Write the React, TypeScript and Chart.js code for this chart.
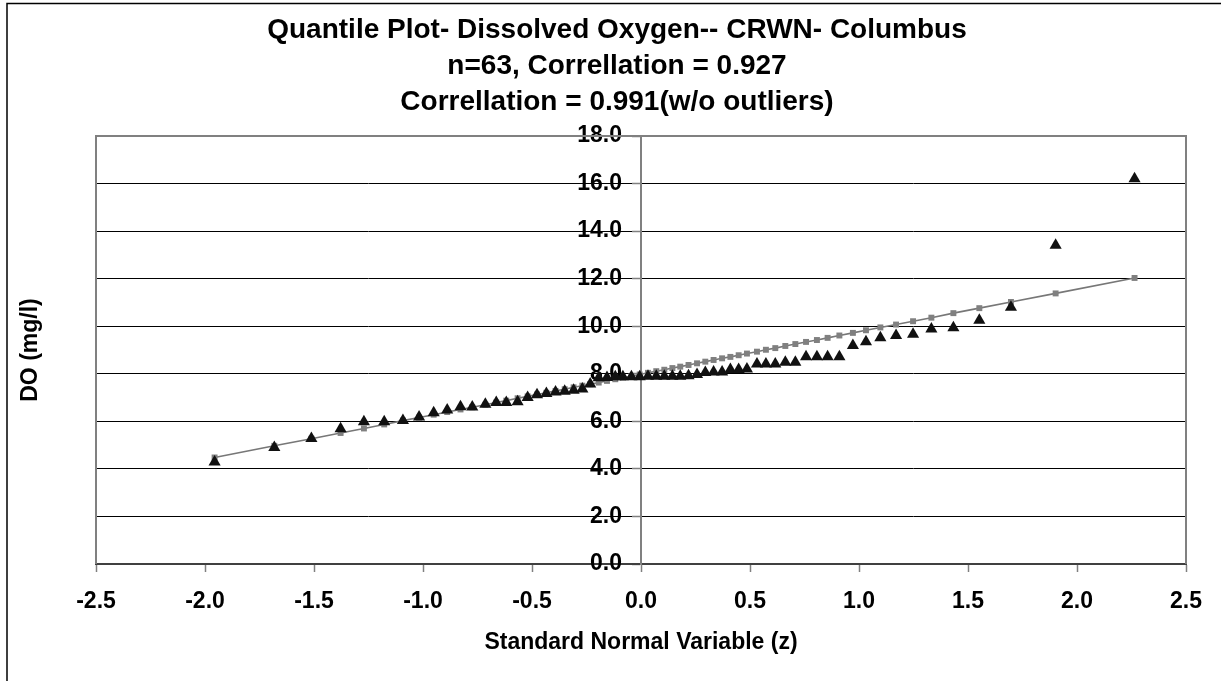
import React, { useEffect, useRef } from "react";
import { Chart, registerables } from "chart.js";

Chart.register(...registerables);

// Standard normal variable (z) for each ranked observation
const zScores = [
  -1.956, -1.682, -1.512, -1.378, -1.271, -1.178, -1.092, -1.018, -0.951, -0.889,
  -0.828, -0.774, -0.714, -0.664, -0.618, -0.566, -0.520, -0.477, -0.434, -0.392,
  -0.350, -0.309, -0.269, -0.233, -0.194, -0.156, -0.118, -0.083, -0.044, -0.006,
  0.032, 0.070, 0.107, 0.144, 0.180, 0.218, 0.257, 0.295, 0.333, 0.372,
  0.410, 0.448, 0.486, 0.532, 0.573, 0.616, 0.662, 0.708, 0.757, 0.807,
  0.856, 0.910, 0.972, 1.032, 1.098, 1.170, 1.248, 1.332, 1.433, 1.552,
  1.697, 1.902, 2.264,
];

// Observed dissolved oxygen (mg/l), sorted
const observedDO = [
  4.29, 4.9, 5.28, 5.69, 5.98, 5.98, 6.03, 6.18, 6.36, 6.48,
  6.61, 6.6, 6.72, 6.79, 6.79, 6.82, 7.0, 7.12, 7.17, 7.23,
  7.26, 7.31, 7.36, 7.57, 7.83, 7.84, 7.87, 7.87, 7.88, 7.88,
  7.9, 7.9, 7.9, 7.9, 7.9, 7.92, 7.97, 8.05, 8.07, 8.07,
  8.18, 8.18, 8.2, 8.41, 8.41, 8.41, 8.49, 8.49, 8.72, 8.72,
  8.72, 8.72, 9.19, 9.35, 9.52, 9.61, 9.66, 9.88, 9.94, 10.25,
  10.8, 13.41, 16.2,
];

// Fitted normal line values (mg/l)
const fittedDO = [
  4.48, 4.97, 5.27, 5.51, 5.70, 5.87, 6.03, 6.16, 6.28, 6.39,
  6.50, 6.59, 6.70, 6.79, 6.87, 6.97, 7.05, 7.13, 7.20, 7.28,
  7.35, 7.43, 7.50, 7.56, 7.63, 7.70, 7.77, 7.83, 7.90, 7.97,
  8.04, 8.11, 8.17, 8.24, 8.30, 8.37, 8.44, 8.51, 8.58, 8.65,
  8.71, 8.78, 8.85, 8.93, 9.01, 9.08, 9.17, 9.25, 9.34, 9.42,
  9.51, 9.61, 9.72, 9.83, 9.95, 10.07, 10.21, 10.36, 10.55, 10.76,
  11.02, 11.38, 12.03,
];

const titleLines = [
  "Quantile Plot- Dissolved Oxygen-- CRWN- Columbus",
  "n=63, Correllation = 0.927",
  "Correllation = 0.991(w/o outliers)",
];
const xAxisTitle = "Standard Normal Variable (z)";
const yAxisTitle = "DO (mg/l)";

const FAMILY = "'Liberation Sans', Arial, Helvetica, sans-serif";

const framePlugin = {
  id: "frame",
  beforeDraw(chart: any) {
    const { ctx, width, height } = chart;
    ctx.save();
    ctx.fillStyle = "#ffffff";
    ctx.fillRect(0, 0, width, height);
    ctx.strokeStyle = "#000000";
    ctx.lineWidth = 1.5;
    ctx.strokeRect(7, 3.5, width + 20, height + 20);
    ctx.restore();
  },
  beforeDatasetsDraw(chart: any) {
    const { ctx, chartArea } = chart;
    ctx.save();
    ctx.strokeStyle = "#808080";
    ctx.lineWidth = 2;
    ctx.beginPath();
    ctx.moveTo(chartArea.left, chartArea.bottom);
    ctx.lineTo(chartArea.left, chartArea.top);
    ctx.lineTo(chartArea.right, chartArea.top);
    ctx.lineTo(chartArea.right, chartArea.bottom);
    ctx.stroke();
    ctx.restore();
  },
  afterDraw(chart: any) {
    const { ctx, chartArea } = chart;
    ctx.save();
    ctx.fillStyle = "#000";
    // chart title
    ctx.font = `bold 28px ${FAMILY}`;
    ctx.textAlign = "center";
    ctx.textBaseline = "middle";
    titleLines.forEach((line, i) => {
      ctx.fillText(line, 617, 30 + i * 36);
    });
    // y axis title
    ctx.translate(31, (chartArea.top + chartArea.bottom) / 2);
    ctx.rotate(-Math.PI / 2);
    ctx.font = `bold 23px ${FAMILY}`;
    ctx.fillText(yAxisTitle, 0, 0);
    ctx.restore();
  },
};

export default function App() {
  const ref = useRef<HTMLCanvasElement>(null);

  useEffect(() => {
    const canvas = ref.current;
    if (!canvas) return;
    const tickFont = { family: FAMILY, size: 23, weight: "bold" as const };
    const chart = new Chart(canvas, {
      type: "scatter",
      data: {
        datasets: [
          {
            label: "Observed",
            data: zScores.map((z, i) => ({ x: z, y: observedDO[i] })),
            pointStyle: "triangle",
            pointRadius: 7,
            pointBackgroundColor: "#111111",
            pointBorderColor: "#111111",
            pointBorderWidth: 0,
            showLine: false,
          },
          {
            label: "Fitted",
            data: zScores.map((z, i) => ({ x: z, y: fittedDO[i] })),
            pointStyle: "rect",
            pointRadius: 4.2,
            pointBackgroundColor: "#808080",
            pointBorderColor: "#808080",
            pointBorderWidth: 0,
            borderColor: "#777777",
            borderWidth: 1.6,
            showLine: true,
          },
        ],
      },
      options: {
        responsive: false,
        animation: false,
        devicePixelRatio: 1,
        layout: { padding: { left: 96, right: 35, top: 136, bottom: 0 } },
        plugins: {
          legend: { display: false },
          tooltip: { enabled: false },
          title: { display: false },
        },
        scales: {
          x: {
            type: "linear",
            position: "bottom",
            min: -2.5,
            max: 2.5,
            afterFit: (scale: any) => {
              scale.height = 117;
            },
            ticks: {
              stepSize: 0.5,
              autoSkip: false,
              maxRotation: 0,
              color: "#000",
              font: tickFont,
              padding: 16,
              callback: (v: any) => Number(v).toFixed(1),
            },
            grid: {
              display: true,
              drawOnChartArea: false,
              drawTicks: true,
              tickLength: 8,
              tickColor: "#808080",
              tickWidth: 1.5,
            },
            border: { display: true, color: "#404040", width: 2 },
            title: {
              display: true,
              text: xAxisTitle,
              color: "#000",
              font: tickFont,
              padding: { top: 0, bottom: 25 },
            },
          },
          y: {
            type: "linear",
            position: "center",
            min: 0,
            max: 18,
            ticks: {
              stepSize: 2,
              color: "#000",
              font: tickFont,
              padding: 11,
              callback: (v: any) => Number(v).toFixed(1),
            },
            grid: {
              color: (ctx: any) => (ctx.tick && ctx.tick.value === 18 ? "#808080" : "#000000"),
              lineWidth: 1,
              drawTicks: true,
              tickLength: 8,
              tickColor: "#808080",
              tickWidth: 1.5,
            },
            border: { display: true, color: "#808080", width: 2 },
          },
        },
      },
      plugins: [framePlugin],
    });
    return () => chart.destroy();
  }, []);

  return (
    <div style={{ position: "absolute", left: 0, top: 0, width: 1221, height: 681, overflow: "hidden" }}>
      <canvas ref={ref} width={1221} height={681} style={{ display: "block", width: 1221, height: 681 }} />
    </div>
  );
}
